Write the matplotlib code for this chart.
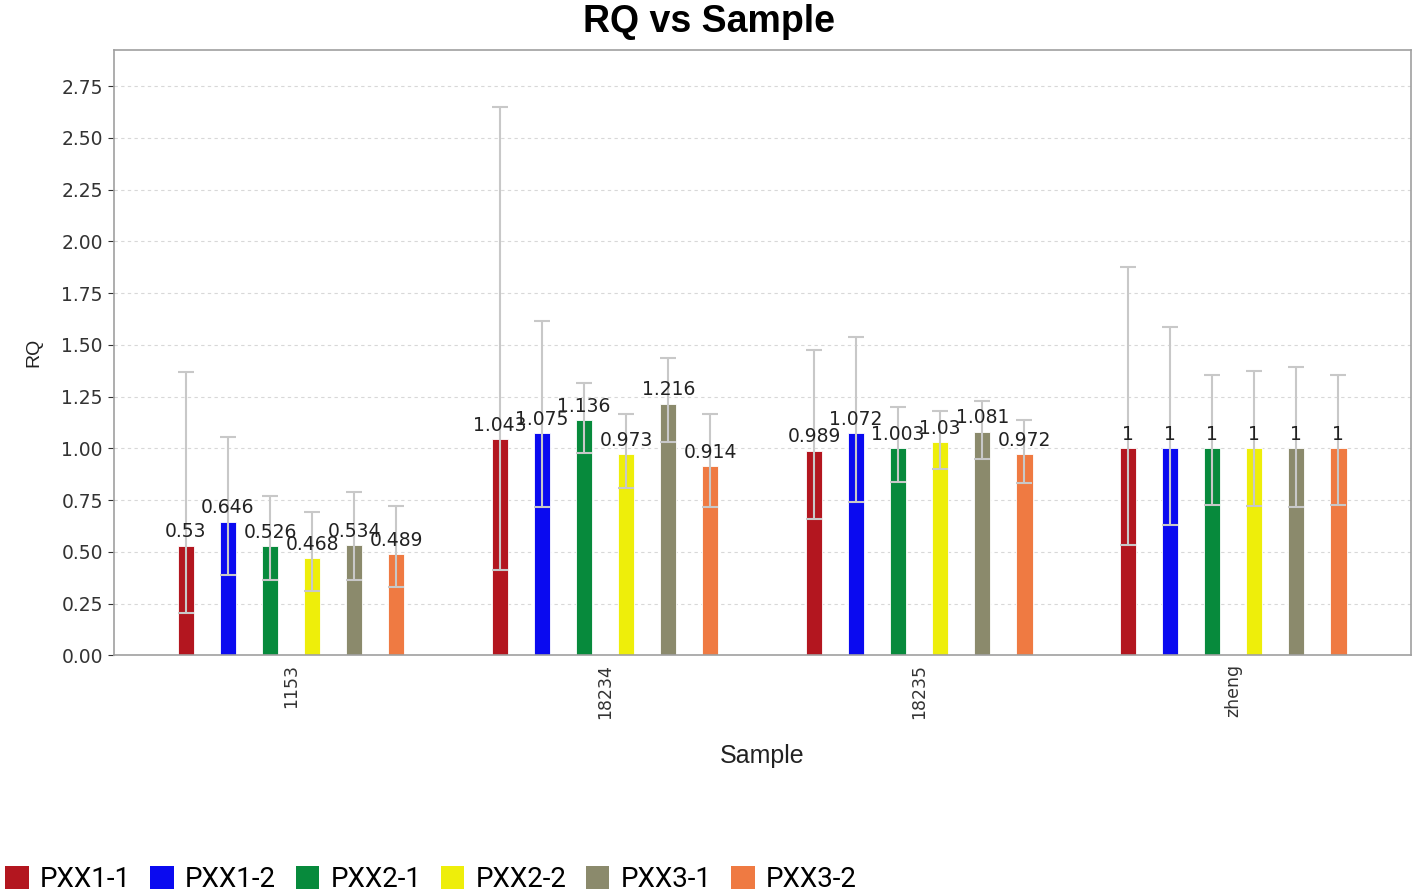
import numpy as np
import matplotlib
matplotlib.use("Agg")
import matplotlib.pyplot as plt
from matplotlib.patches import Patch

samples = ['1153', '18234', '18235', 'zheng']
series = ['PXX1-1', 'PXX1-2', 'PXX2-1', 'PXX2-2', 'PXX3-1', 'PXX3-2']
colors = ['#B3161F', '#0A0AF0', '#078A3C', '#EEEE0A', '#8B8A6C', '#EF7A42']

# RQ per series, one value per sample
rq = [
    [0.53, 1.043, 0.989, 1],
    [0.646, 1.075, 1.072, 1],
    [0.526, 1.136, 1.003, 1],
    [0.468, 0.973, 1.03, 1],
    [0.534, 1.216, 1.081, 1],
    [0.489, 0.914, 0.972, 1],
]
rq_max = [
    [1.368, 2.65, 1.474, 1.875],
    [1.054, 1.614, 1.537, 1.585],
    [0.768, 1.315, 1.199, 1.353],
    [0.691, 1.165, 1.179, 1.373],
    [0.788, 1.435, 1.228, 1.392],
    [0.720, 1.165, 1.136, 1.353],
]
rq_min = [
    [0.203, 0.41, 0.657, 0.532],
    [0.387, 0.715, 0.74, 0.628],
    [0.362, 0.976, 0.836, 0.725],
    [0.309, 0.807, 0.899, 0.72],
    [0.362, 1.03, 0.947, 0.715],
    [0.329, 0.715, 0.831, 0.725],
]
labels = [
    ['0.53', '1.043', '0.989', '1'],
    ['0.646', '1.075', '1.072', '1'],
    ['0.526', '1.136', '1.003', '1'],
    ['0.468', '0.973', '1.03', '1'],
    ['0.534', '1.216', '1.081', '1'],
    ['0.489', '0.914', '0.972', '1'],
]

plt.rcParams['font.family'] = ['Liberation Sans', 'DejaVu Sans']

fig = plt.figure(figsize=(14.18, 8.94), dpi=100)
ax = fig.add_axes([0.0804, 0.267, 0.9146, 0.677])

x = np.arange(len(samples))
step = 0.134
width = 0.052
for i, name in enumerate(series):
    pos = x + (i - 2.5) * step
    vals = np.array(rq[i])
    lo = vals - np.array(rq_min[i])
    hi = np.array(rq_max[i]) - vals
    ax.bar(pos, vals, width=width, color=colors[i], edgecolor='white',
           linewidth=0.6, zorder=2)
    ax.errorbar(pos, vals, yerr=[lo, hi], fmt='none', ecolor='#C8C8C8',
                elinewidth=1.5, capsize=6, capthick=1.5, zorder=3)
    # value labels sit just above each bar (they overlap in the original too)
    for p, v, t in zip(pos, vals, labels[i]):
        ax.annotate(t, (p, v), xytext=(0, 3), textcoords='offset points',
                    ha='center', va='bottom', fontsize=13.5, color='#222222',
                    family='DejaVu Sans', zorder=4)

ax.set_xlim(-0.564, 3.566)
ax.set_ylim(0, 2.924)
yt = np.arange(0, 2.76, 0.25)
ax.set_yticks(yt)
ax.set_yticklabels(['%.2f' % v for v in yt], family='DejaVu Sans', fontsize=13.5)
ax.set_xticks(x)
ax.set_xticklabels(samples, rotation=90, family='DejaVu Sans', fontsize=12.5)
ax.tick_params(axis='y', colors='#333333', length=4, pad=4)
ax.tick_params(axis='x', colors='#333333', length=0, pad=6)
ax.yaxis.grid(True, linestyle=(0, (3, 3)), color='#D8D8D8', linewidth=0.8, zorder=0)
ax.set_axisbelow(True)
for s in ax.spines.values():
    s.set_color('#A0A0A0')
    s.set_linewidth(1.2)

fig.text(0.5, 0.975, 'RQ vs Sample', fontsize=27, fontweight='bold',
         ha='center', va='center')
ax.set_xlabel('Sample', fontsize=18, labelpad=18, color='#222222')
ax.set_ylabel('RQ', fontsize=14, labelpad=14, color='#222222')

handles = [Patch(facecolor=c, edgecolor='none') for c in colors]
fig.legend(handles, series, loc='lower left', bbox_to_anchor=(-0.012, -0.024),
           ncol=6, frameon=False, prop={'family': 'Roboto', 'size': 20},
           handlelength=0.85, handleheight=0.9, handletextpad=0.4,
           columnspacing=0.7, borderpad=0.3)

fig.savefig('out.png', dpi=100)
